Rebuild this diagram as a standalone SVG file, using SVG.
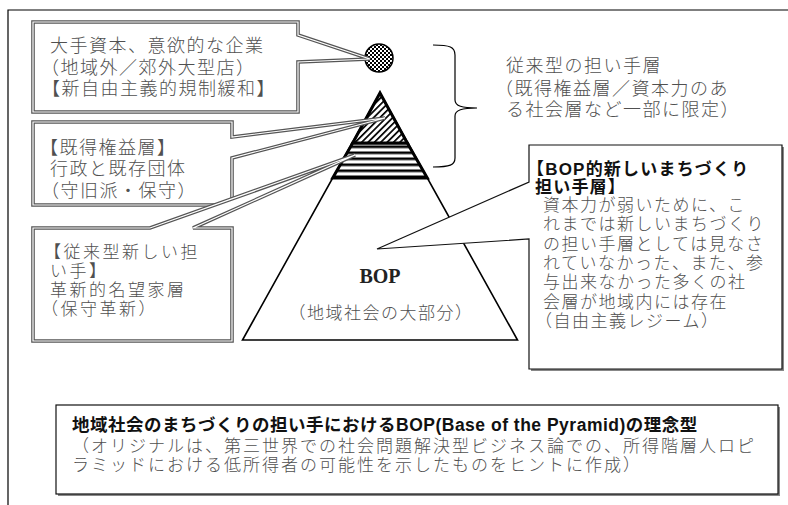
<svg xmlns="http://www.w3.org/2000/svg" width="788" height="505" viewBox="0 0 788 505">
<style>
.t{font-family:'Liberation Serif','Noto Sans CJK JP',serif;font-size:18px;letter-spacing:1.5px;font-weight:300;fill:#505050}
.tb{font-family:'Liberation Sans','Noto Sans CJK JP',sans-serif;font-weight:bold;fill:#111}
.call{fill:#fff;stroke:#555;stroke-width:3.6;stroke-linejoin:miter}
.callin{fill:none;stroke:#fff;stroke-width:1.2;stroke-linejoin:miter}
.box{fill:#fff;stroke:#111;stroke-width:1.2}
.shadow{fill:#888}
.thin{fill:none;stroke:#000;stroke-width:1.2}
</style>
<defs>
<pattern id="checker" width="4" height="4" patternUnits="userSpaceOnUse">
<rect width="4" height="4" fill="#fff"/>
<rect width="2" height="2" fill="#000"/>
<rect x="2" y="2" width="2" height="2" fill="#000"/>
</pattern>
<pattern id="hatch" width="4.5" height="4.5" patternUnits="userSpaceOnUse" patternTransform="rotate(45)">
<rect width="4.5" height="4.5" fill="#fff"/>
<rect width="1.7" height="4.5" fill="#000"/>
</pattern>
<pattern id="stripes" x="0" y="151.5" width="10" height="6" patternUnits="userSpaceOnUse">
<rect width="10" height="6" fill="#fff"/>
<rect width="10" height="2.6" fill="#000"/>
</pattern>
</defs>
<rect width="788" height="505" fill="#fff"/>
<g id="frame">
<path d="M8,505 V10 H788" class="thin"/>
</g>
<g id="pyramid">
<polygon points="380,93 517.5,340 242.5,340" fill="#fff" stroke="#000" stroke-width="1.6"/>
<polygon points="352.7,143 407.3,143 427.3,178 332.7,178" fill="url(#stripes)" stroke="#000" stroke-width="3"/>
<polygon points="380,93 407.3,143 352.7,143" fill="url(#hatch)" stroke="#000" stroke-width="3" stroke-linejoin="miter"/>
<text x="380" y="283" text-anchor="middle" style="font-family:'Liberation Serif',serif;font-weight:bold;font-size:20px;fill:#222">BOP</text>
<text x="381" y="319" text-anchor="middle" class="t" style="font-size:17px">（地域社会の大部分）</text>
</g>
<g id="capital">
<circle cx="379" cy="58" r="14" fill="url(#checker)" stroke="#000" stroke-width="1.5"/>
</g>
<g id="callout-capital">
<path class="call" d="M33,22 H298 V35 L370,59 L298,62 V112 H33 Z"/>
<path class="callin" d="M33,22 H298 V35 L370,59 L298,62 V112 H33 Z"/>
<text class="t" x="50" y="52">大手資本、意欲的な企業</text>
<text class="t" x="41" y="74">（地域外／郊外大型店）</text>
<text class="t" x="42" y="95">【新自由主義的規制緩和】</text>
</g>
<g id="callout-vested">
<path class="call" d="M33,122 H232 V137 L385,118 L232,158 V205 H33 Z"/>
<path class="callin" d="M33,122 H232 V137 L385,118 L232,158 V205 H33 Z"/>
<text class="t" x="40" y="154">【既得権益層】</text>
<text class="t" x="50" y="175">行政と既存団体</text>
<text class="t" x="41" y="197">（守旧派・保守）</text>
</g>
<g id="callout-traditional">
<path class="call" d="M33,228 H150 L355,155 L193,228 H232 V341 H33 Z"/>
<path class="callin" d="M33,228 H150 L355,155 L193,228 H232 V341 H33 Z"/>
<g class="t" style="font-size:17px;letter-spacing:2.5px">
<text x="44" y="258">【従来型新しい担</text>
<text x="50" y="277">い手】</text>
<text x="50" y="296">革新的名望家層</text>
<text x="41" y="315">（保守革新）</text>
</g>
</g>
<g id="connectors">
<path class="thin" d="M433,45 C450,45 455,47 455,55 L455,100 C455,106 462,108 477,108 C462,108 455,110 455,116 L455,158 C455,165 450,167 433,167"/>
</g>
<g id="traditional-label">
<text class="t" x="506" y="72">従来型の担い手層</text>
<text class="t" x="495" y="95">（既得権益層／資本力のあ</text>
<text class="t" x="506" y="116">る社会層など一部に限定）</text>
</g>
<g id="callout-bop">
<rect class="shadow" x="531" y="147" width="253" height="224"/>
<path class="box" d="M529,145 H782 V369 H529 V239 L377,249 L529,182 Z"/>
<text class="tb" x="527" y="175" style="font-size:17px;letter-spacing:1.2px">【BOP的新しいまちづくり</text>
<text class="tb" x="535" y="193" style="font-size:17px;letter-spacing:1.2px">担い手層】</text>
<g class="t" style="font-size:17px">
<text x="543" y="211">資本力が弱いために、こ</text>
<text x="543" y="230.3">れまでは新しいまちづくり</text>
<text x="543" y="249.6">の担い手層としては見なさ</text>
<text x="543" y="268.9">れていなかった、また、参</text>
<text x="543" y="288.2">与出来なかった多くの社</text>
<text x="543" y="307.5">会層が地域内には存在</text>
<text x="535" y="326.8">（自由主義レジーム）</text>
</g>
</g>
<g id="caption">
<rect class="shadow" x="58" y="407" width="722" height="89"/>
<rect class="box" x="56" y="405" width="722" height="89"/>
<text class="tb" x="72" y="431" style="font-size:17.5px;letter-spacing:0.5px">地域社会のまちづくりの担い手におけるBOP(Base of the Pyramid)の理念型</text>
<text class="t" x="72" y="452" style="font-size:17px;letter-spacing:2px">（オリジナルは、第三世界での社会問題解決型ビジネス論での、所得階層人ロピ</text>
<text class="t" x="72" y="471" style="font-size:17px;letter-spacing:2px">ラミッドにおける低所得者の可能性を示したものをヒントに作成）</text>
</g>
</svg>
